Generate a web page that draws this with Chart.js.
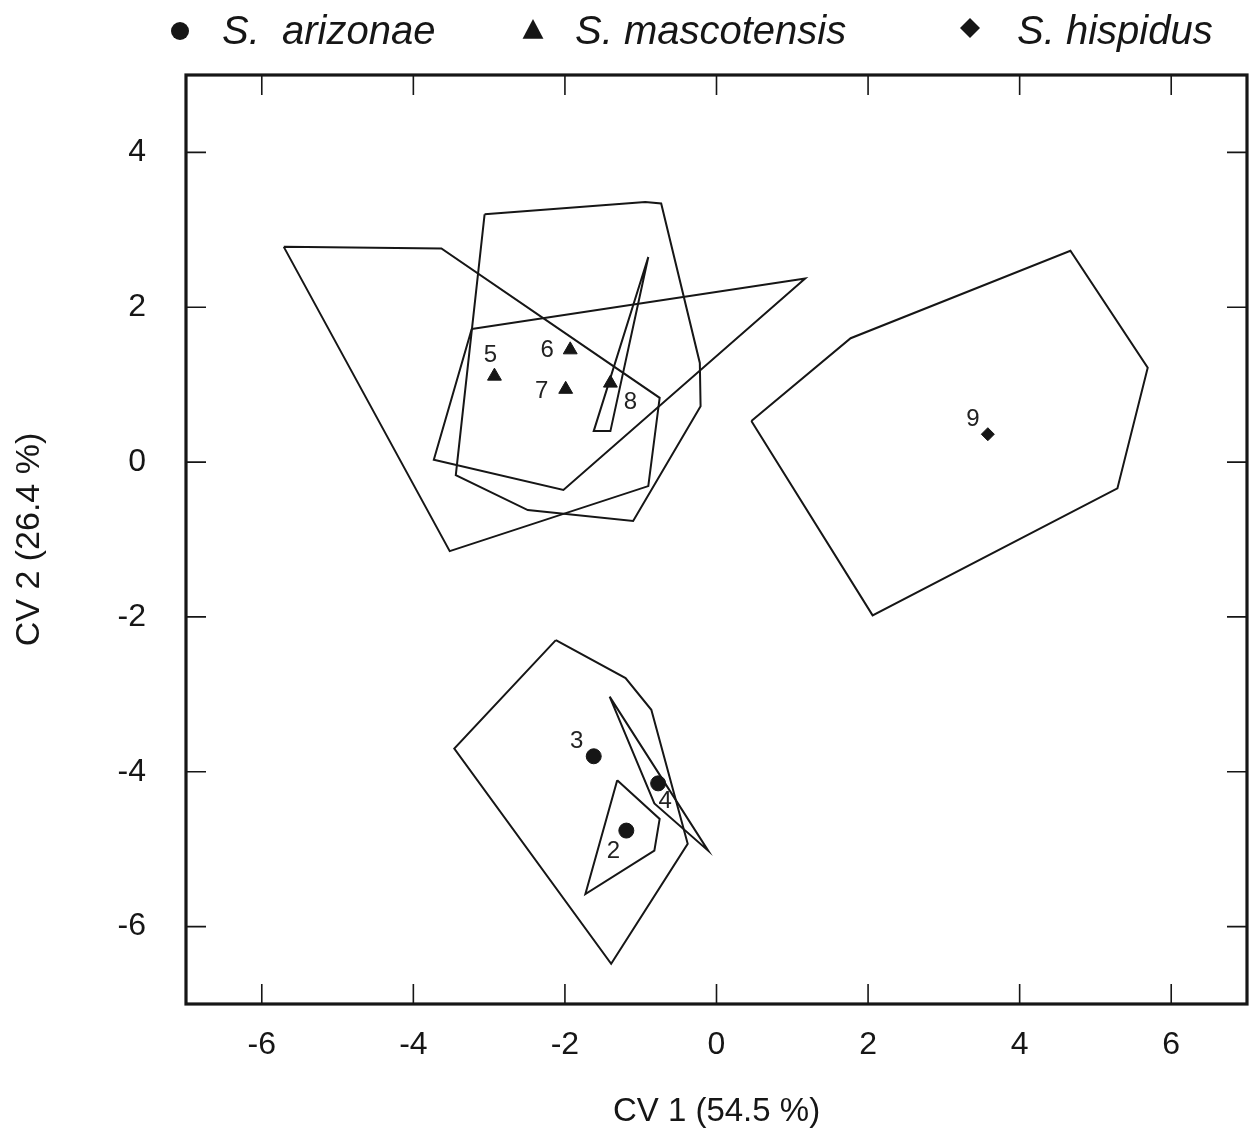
<!DOCTYPE html>
<html>
<head>
<meta charset="utf-8">
<script src="https://cdn.jsdelivr.net/npm/chart.js@4.4.1/dist/chart.umd.min.js"></script>
<style>
  html, body { margin: 0; padding: 0; background: #fff; }
  canvas { display: block; }
</style>
</head>
<body>
<canvas id="graficoCV" width="1256" height="1135"></canvas>
<script>
// ==========================================
// DATOS: CENTROIDES Y POLÍGONOS POR POBLACIÓN
// ==========================================
const especies = ['S.  arizonae', 'S. mascotensis', 'S. hispidus'];
const marcas = ['circle', 'triangle', 'rectRot'];

const poblaciones = ['2', '3', '4', '5', '6', '7', '8', '9'];
const especieDe = [0, 0, 0, 1, 1, 1, 1, 2];
const cv1 = [-1.19, -1.62, -0.77, -2.93, -1.93, -1.99, -1.40, 3.58];
const cv2 = [-4.76, -3.80, -4.15, 1.11, 1.45, 0.94, 1.02, 0.36];

// vértices de cada polígono (CV1, CV2)
const hull2 = [[-1.31, -4.11], [-0.75, -4.61], [-0.82, -5.02], [-1.73, -5.58]];
const hull3 = [[-2.12, -2.30], [-1.20, -2.79], [-0.86, -3.20], [-0.38, -4.93], [-1.39, -6.48], [-3.46, -3.70]];
const hull4 = [[-1.41, -3.03], [-0.11, -5.02], [-0.82, -4.41]];
const hull5 = [[-5.71, 2.78], [-3.63, 2.76], [-0.75, 0.83], [-0.90, -0.31], [-3.52, -1.15]];
const hull6 = [[-3.06, 3.20], [-0.94, 3.36], [-0.73, 3.34], [-0.22, 1.28], [-0.21, 0.72], [-1.10, -0.76], [-2.49, -0.62], [-3.44, -0.17]];
const hull7 = [[-3.23, 1.72], [1.17, 2.37], [-2.02, -0.36], [-3.73, 0.03]];
const hull8 = [[-0.90, 2.65], [-1.62, 0.40], [-1.40, 0.40]];
const hull9 = [[0.46, 0.53], [1.77, 1.60], [4.67, 2.73], [5.69, 1.22], [5.29, -0.34], [2.06, -1.98]];
const hulls = [hull2, hull3, hull4, hull5, hull6, hull7, hull8, hull9];

const ticksX = [-6, -4, -2, 0, 2, 4, 6];
const ticksY = [-6, -4, -2, 0, 2, 4];

// posición del número respecto al punto (px)
const offsetEtiqueta = {
    '2': [-13, 21], '3': [-17, -15], '4': [7, 18], '5': [-4, -21],
    '6': [-23, 1], '7': [-24, 2], '8': [20, 19], '9': [-15, -15]
};

const NEGRO = '#161616';
const FUENTE = '"Liberation Sans", Arial, sans-serif';

// ==========================================
// DATASETS
// ==========================================
const datasets = [];

hulls.forEach((h, i) => {
    const pts = h.map(p => ({ x: p[0], y: p[1] }));
    pts.push({ x: h[0][0], y: h[0][1] }); // cerrar polígono
    datasets.push({
        label: 'hull ' + poblaciones[i],
        data: pts,
        showLine: true,
        borderColor: NEGRO,
        borderWidth: 2,
        pointRadius: 0,
        fill: false,
        tension: 0
    });
});

especies.forEach((nombre, e) => {
    const pts = [];
    poblaciones.forEach((p, i) => {
        if (especieDe[i] === e) pts.push({ x: cv1[i], y: cv2[i], id: p });
    });
    datasets.push({
        label: nombre,
        data: pts,
        pointStyle: marcas[e],
        pointRadius: e === 0 ? 7.5 : (e === 1 ? 8 : 6.5),
        backgroundColor: NEGRO,
        borderColor: NEGRO,
        borderWidth: 1,
        showLine: false
    });
});

// ==========================================
// PLUGINS: MARCO, TICKS INTERNOS, ETIQUETAS, LEYENDA
// ==========================================
const marcoPlugin = {
    id: 'marco',
    afterDraw(chart) {
        const { ctx, chartArea: a, scales } = chart;
        ctx.save();
        ctx.strokeStyle = NEGRO;
        ctx.lineWidth = 1.6;
        const L = 20;
        ticksX.forEach(v => {
            const px = scales.x.getPixelForValue(v);
            ctx.beginPath();
            ctx.moveTo(px, a.bottom); ctx.lineTo(px, a.bottom - L);
            ctx.moveTo(px, a.top); ctx.lineTo(px, a.top + L);
            ctx.stroke();
        });
        ticksY.forEach(v => {
            const py = scales.y.getPixelForValue(v);
            ctx.beginPath();
            ctx.moveTo(a.left, py); ctx.lineTo(a.left + L, py);
            ctx.moveTo(a.right, py); ctx.lineTo(a.right - L, py);
            ctx.stroke();
        });
        ctx.lineWidth = 3.2;
        ctx.strokeRect(a.left, a.top, a.right - a.left, a.bottom - a.top);
        ctx.restore();
    }
};

const etiquetasPlugin = {
    id: 'etiquetas',
    afterDatasetsDraw(chart) {
        const { ctx, scales } = chart;
        ctx.save();
        ctx.fillStyle = '#222';
        ctx.font = '24px ' + FUENTE;
        ctx.textAlign = 'center';
        ctx.textBaseline = 'middle';
        poblaciones.forEach((p, i) => {
            const px = scales.x.getPixelForValue(cv1[i]);
            const py = scales.y.getPixelForValue(cv2[i]);
            const o = offsetEtiqueta[p];
            ctx.fillText(p, px + o[0], py + o[1]);
        });
        ctx.restore();
    }
};

function marca(ctx, tipo, x, y, r) {
    ctx.beginPath();
    if (tipo === 'circle') {
        ctx.arc(x, y, r, 0, Math.PI * 2);
    } else if (tipo === 'triangle') {
        ctx.moveTo(x, y - r);
        ctx.lineTo(x + r * 0.95, y + r * 0.8);
        ctx.lineTo(x - r * 0.95, y + r * 0.8);
        ctx.closePath();
    } else {
        ctx.moveTo(x, y - r);
        ctx.lineTo(x + r, y);
        ctx.lineTo(x, y + r);
        ctx.lineTo(x - r, y);
        ctx.closePath();
    }
    ctx.fill();
}

const leyendaPlugin = {
    id: 'leyenda',
    afterDraw(chart) {
        const ctx = chart.ctx;
        const items = [
            { mx: 180, my: 31, r: 9, tx: 222 },
            { mx: 533, my: 30, r: 11, tx: 575 },
            { mx: 970, my: 28, r: 10, tx: 1017 }
        ];
        ctx.save();
        ctx.fillStyle = NEGRO;
        ctx.font = 'italic 40px ' + FUENTE;
        ctx.textBaseline = 'alphabetic';
        ctx.textAlign = 'left';
        especies.forEach((nombre, e) => {
            const it = items[e];
            marca(ctx, marcas[e], it.mx, it.my, it.r);
            ctx.fillText(nombre, it.tx, 44);
        });
        ctx.restore();
    }
};

// ==========================================
// GRÁFICO
// ==========================================
new Chart(document.getElementById('graficoCV'), {
    type: 'scatter',
    data: { datasets },
    options: {
        responsive: false,
        animation: false,
        layout: { padding: { top: 75, right: 6, left: 0, bottom: 0 } },
        plugins: {
            legend: { display: false },
            tooltip: { enabled: false }
        },
        scales: {
            x: {
                type: 'linear',
                min: -7, max: 7,
                afterBuildTicks: s => { s.ticks = ticksX.map(v => ({ value: v })); },
                afterFit: s => { s.height = 131; },
                grid: { display: false, drawTicks: false },
                border: { display: false },
                ticks: { color: NEGRO, padding: 22, font: { family: FUENTE, size: 32 } },
                title: {
                    display: true,
                    text: 'CV 1 (54.5 %)',
                    color: NEGRO,
                    padding: { top: 0, bottom: 3 },
                    font: { family: FUENTE, size: 33 }
                }
            },
            y: {
                type: 'linear',
                min: -7, max: 5,
                afterBuildTicks: s => { s.ticks = ticksY.map(v => ({ value: v })); },
                afterFit: s => { s.width = 186; },
                grid: { display: false, drawTicks: false },
                border: { display: false },
                ticks: { color: NEGRO, padding: 40, font: { family: FUENTE, size: 32 } },
                title: {
                    display: true,
                    text: 'CV 2 (26.4 %)',
                    color: NEGRO,
                    padding: { top: 9, bottom: 0 },
                    font: { family: FUENTE, size: 34 }
                }
            }
        }
    },
    plugins: [marcoPlugin, etiquetasPlugin, leyendaPlugin]
});
</script>
</body>
</html>
